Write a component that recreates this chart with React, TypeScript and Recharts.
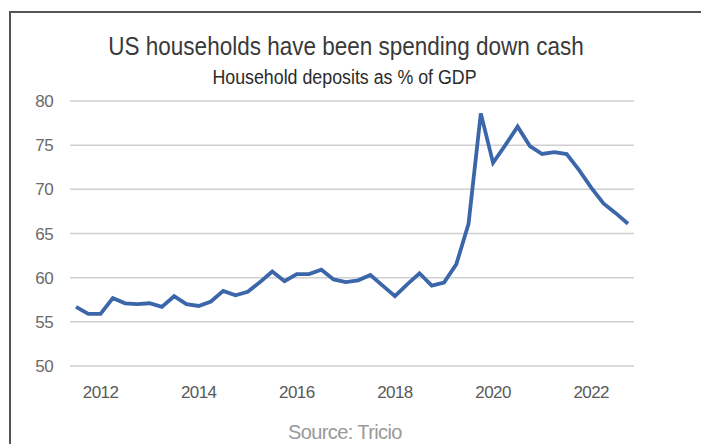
import { CartesianGrid, Line, LineChart, XAxis, YAxis } from 'recharts';

const QUARTERS = [
  '2011 Q3', '2011 Q4',
  '2012 Q1', '2012 Q2', '2012 Q3', '2012 Q4',
  '2013 Q1', '2013 Q2', '2013 Q3', '2013 Q4',
  '2014 Q1', '2014 Q2', '2014 Q3', '2014 Q4',
  '2015 Q1', '2015 Q2', '2015 Q3', '2015 Q4',
  '2016 Q1', '2016 Q2', '2016 Q3', '2016 Q4',
  '2017 Q1', '2017 Q2', '2017 Q3', '2017 Q4',
  '2018 Q1', '2018 Q2', '2018 Q3', '2018 Q4',
  '2019 Q1', '2019 Q2', '2019 Q3', '2019 Q4',
  '2020 Q1', '2020 Q2', '2020 Q3', '2020 Q4',
  '2021 Q1', '2021 Q2', '2021 Q3', '2021 Q4',
  '2022 Q1', '2022 Q2', '2022 Q3', '2022 Q4',
];

// household deposits, % of GDP
const DEPOSITS = [
  56.7, 55.9,
  55.9, 57.7, 57.1, 57.0,
  57.1, 56.7, 57.9, 57.0,
  56.8, 57.3, 58.5, 58.0,
  58.4, 59.5, 60.7, 59.6,
  60.4, 60.4, 60.9, 59.8,
  59.5, 59.7, 60.3, 59.1,
  57.9, 59.25, 60.5, 59.1,
  59.45, 61.5, 66.1, 78.6,
  73.0, 75.0, 77.1, 74.9,
  74.0, 74.2, 74.0, 72.2,
  70.2, 68.4, 67.3, 66.1,
];

const YEAR_TICKS = ['2012', '2014', '2016', '2018', '2020', '2022'];
const Y_TICKS = [50, 55, 60, 65, 70, 75, 80];

const FONT = '"Liberation Sans", Arial, sans-serif';

const rows = QUARTERS.map((q, i) => ({ q, value: DEPOSITS[i] }));

export default function App() {
  return (
    <div style={{ position: 'absolute', left: 0, top: 0, width: 701, height: 444, overflow: 'hidden', background: '#fff', fontFamily: FONT }}>
      <div
        style={{
          position: 'absolute',
          left: 9,
          top: 11,
          width: 760,
          height: 500,
          border: '2px solid #555',
          boxSizing: 'border-box',
        }}
      />
      <div
        style={{
          position: 'absolute',
          left: 0,
          width: 692,
          top: 34,
          textAlign: 'center',
          fontSize: 25,
          lineHeight: 1,
          transform: 'scaleX(0.9)',
          color: '#3a3a3a',
          whiteSpace: 'nowrap',
        }}
      >
        US households have been spending down cash
      </div>
      <div
        style={{
          position: 'absolute',
          left: 0,
          width: 689,
          top: 67,
          textAlign: 'center',
          fontSize: 20,
          lineHeight: 1,
          transform: 'scaleX(0.89)',
          color: '#2b2b2b',
          whiteSpace: 'nowrap',
        }}
      >
        Household deposits as % of GDP
      </div>
      <div style={{ position: 'absolute', left: 0, top: 0 }}>
        <LineChart width={701} height={444} data={rows} margin={{ top: 101, right: 67, bottom: 48, left: 0 }}>
          <CartesianGrid vertical={false} stroke="#cfcfcf" strokeWidth={1.5} />
          <XAxis
            dataKey="q"
            ticks={YEAR_TICKS.map((y) => `${y} Q1`)}
            tickFormatter={(v: string) => v.slice(0, 4)}
            interval={0}
            padding={{ left: 6, right: 6 }}
            axisLine={false}
            tickLine={false}
            tickSize={0}
            tickMargin={20}
            height={30}
            tick={{ fill: '#595959', fontSize: 17, fontFamily: FONT, letterSpacing: -0.6 }}
          />
          <YAxis
            domain={[50, 80]}
            ticks={Y_TICKS}
            width={70}
            axisLine={false}
            tickLine={false}
            tickSize={0}
            tickMargin={17}
            tick={{ fill: '#6a6a6a', fontSize: 17, fontFamily: FONT, letterSpacing: -0.6 }}
          />
          <Line
            type="linear"
            dataKey="value"
            stroke="#3b66aa"
            strokeWidth={3.8}
            dot={false}
            isAnimationActive={false}
          />
        </LineChart>
      </div>
      <div
        style={{
          position: 'absolute',
          left: 288,
          top: 422,
          fontSize: 20,
          lineHeight: 1,
          letterSpacing: -0.6,
          color: '#999',
          whiteSpace: 'nowrap',
        }}
      >
        Source: Tricio
      </div>
    </div>
  );
}
